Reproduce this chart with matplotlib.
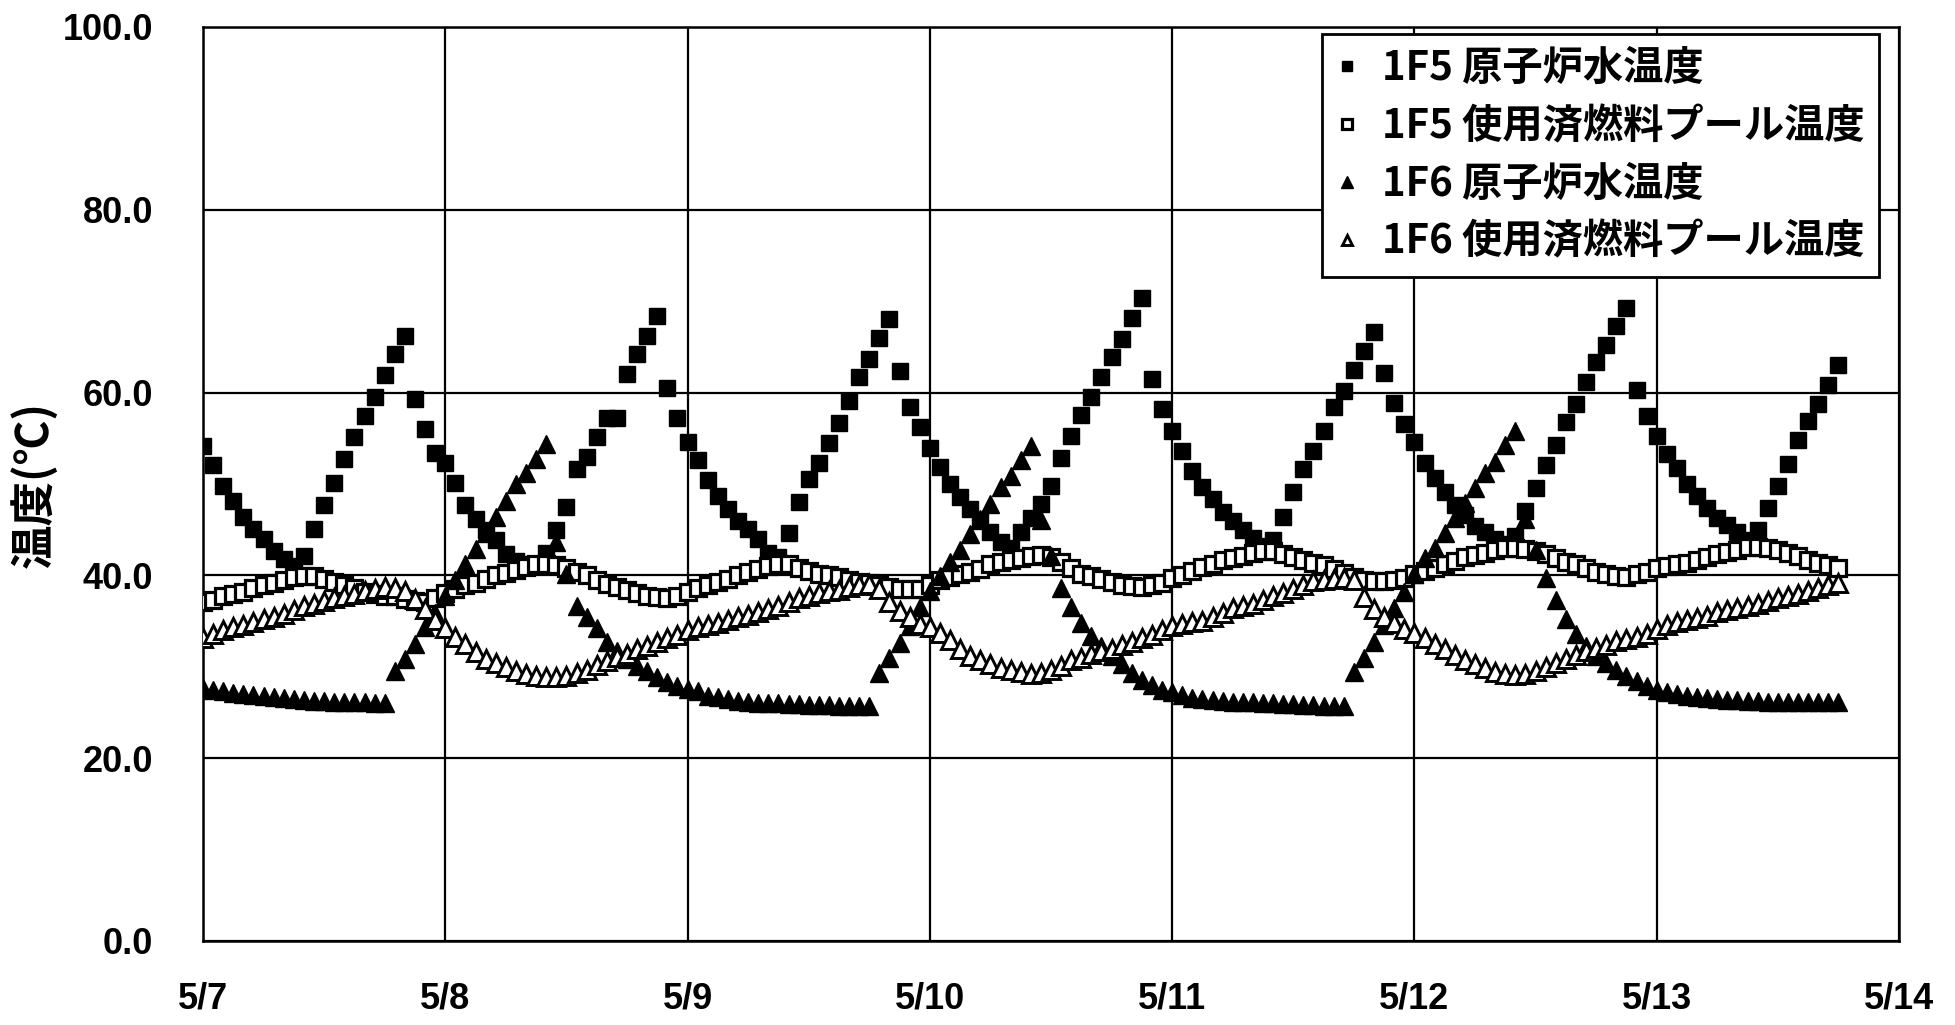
import matplotlib
matplotlib.use("Agg")
import matplotlib.pyplot as plt
from matplotlib.lines import Line2D
import pandas as pd

# ---- data (hourly readings from 2011-05-07 00:00) ----
start_time = "2011-05-07 00:00"
x_tick_labels = ["5/7", "5/8", "5/9", "5/10", "5/11", "5/12", "5/13", "5/14"]
y_tick_values = [0, 20, 40, 60, 80, 100]
y_tick_labels = ["0.0", "20.0", "40.0", "60.0", "80.0", "100.0"]
series_names = ["1F5 原子炉水温度", "1F5 使用済燃料プール温度",
                "1F6 原子炉水温度", "1F6 使用済燃料プール温度"]

f5_reactor = [
    54.2, 52.1, 49.8, 48.1, 46.4, 45.1, 44.0, 42.7, 41.8, 41.0, 42.1, 45.1, 47.7, 50.1, 52.7, 55.1, 57.4, 59.5, 61.9, 64.2, 66.2, 59.3, 56.0, 53.4,
    52.3, 50.1, 47.7, 46.2, 45.0, 43.9, 42.3, 41.6, 41.2, 41.1, 42.5, 45.0, 47.5, 51.6, 52.9, 55.1, 57.2, 57.2, 62.0, 64.2, 66.2, 68.4, 60.5, 57.2,
    54.6, 52.6, 50.4, 48.7, 47.3, 46.0, 45.1, 44.0, 42.4, 42.0, 44.6, 48.0, 50.6, 52.3, 54.5, 56.7, 59.1, 61.7, 63.7, 66.0, 68.1, 62.4, 58.4, 56.2,
    53.9, 51.9, 50.0, 48.6, 47.3, 45.9, 44.8, 43.7, 43.0, 44.8, 46.3, 47.8, 49.8, 52.8, 55.3, 57.5, 59.5, 61.7, 63.9, 65.9, 68.2, 70.3, 61.5, 58.2,
    55.8, 53.6, 51.4, 49.7, 48.4, 46.9, 46.0, 45.0, 44.1, 43.2, 43.9, 46.4, 49.1, 51.6, 53.6, 55.8, 58.4, 60.2, 62.5, 64.6, 66.6, 62.1, 58.9, 56.6,
    54.6, 52.3, 50.7, 49.1, 47.7, 46.6, 45.4, 44.7, 44.0, 43.4, 44.3, 47.1, 49.6, 52.1, 54.3, 56.8, 58.8, 61.2, 63.4, 65.2, 67.3, 69.3, 60.3, 57.4,
    55.2, 53.3, 51.7, 50.0, 48.7, 47.4, 46.3, 45.5, 44.7, 43.9, 45.0, 47.4, 49.8, 52.2, 54.8, 56.9, 58.7, 60.8, 63.0,
]

f5_pool = [
    37.1, 37.3, 37.7, 38.0, 38.2, 38.6, 38.9, 39.2, 39.5, 39.8, 39.9, 39.9, 39.6, 39.3, 39.0, 38.6, 38.2, 38.0, 37.8, 37.7, 37.4, 37.2, 37.1, 37.5,
    38.1, 38.5, 38.9, 39.2, 39.6, 40.0, 40.3, 40.6, 40.9, 41.2, 41.2, 41.1, 40.8, 40.4, 40.0, 39.5, 39.1, 38.7, 38.4, 38.1, 37.8, 37.6, 37.5, 37.7,
    38.2, 38.6, 39.0, 39.3, 39.6, 40.0, 40.4, 40.7, 41.0, 41.3, 41.2, 40.8, 40.5, 40.2, 40.0, 39.8, 39.5, 39.3, 39.2, 39.0, 38.7, 38.5, 38.5, 38.5,
    38.9, 39.5, 39.8, 40.1, 40.4, 40.7, 41.2, 41.5, 41.7, 41.9, 42.1, 42.2, 42.0, 41.5, 40.8, 40.2, 39.9, 39.6, 39.3, 39.0, 38.8, 38.7, 38.9, 39.2,
    39.7, 40.0, 40.5, 40.9, 41.3, 41.7, 41.9, 42.1, 42.4, 42.7, 42.7, 42.3, 42.0, 41.7, 41.4, 41.1, 40.7, 40.3, 39.8, 39.5, 39.4, 39.4, 39.5, 39.7,
    40.1, 40.5, 40.8, 41.2, 41.6, 42.0, 42.2, 42.5, 42.8, 43.0, 43.0, 42.9, 42.7, 42.3, 41.9, 41.5, 41.2, 40.8, 40.4, 40.1, 39.9, 39.8, 40.1, 40.4,
    40.8, 41.0, 41.2, 41.4, 41.7, 42.0, 42.3, 42.6, 42.8, 43.1, 43.1, 43.0, 42.8, 42.5, 42.1, 41.7, 41.4, 41.1, 40.8,
]

f6_reactor = [
    27.7, 27.5, 27.3, 27.1, 27.0, 26.9, 26.8, 26.7, 26.6, 26.5, 26.4, 26.3, 26.3, 26.2, 26.1, 26.1, 26.1, 26.0, 26.0, 29.5, 30.9, 32.5, 34.3, 35.9,
    37.8, 39.5, 41.2, 42.9, 44.6, 46.4, 48.1, 50.0, 51.2, 52.7, 54.4, 43.6, 40.1, 36.7, 35.5, 34.2, 32.7, 31.7, 30.9, 30.1, 29.5, 28.9, 28.3, 27.9,
    27.6, 27.3, 26.8, 26.7, 26.5, 26.3, 26.2, 26.0, 26.0, 26.0, 25.9, 25.9, 25.8, 25.8, 25.8, 25.7, 25.7, 25.7, 25.7, 29.3, 31.0, 32.6, 34.5, 36.5,
    38.3, 39.9, 41.5, 42.8, 44.5, 46.2, 47.8, 49.7, 50.9, 52.6, 54.2, 46.1, 42.1, 38.6, 36.5, 34.8, 33.4, 32.3, 31.2, 30.3, 29.3, 28.6, 28.0, 27.5,
    27.2, 26.9, 26.6, 26.5, 26.4, 26.3, 26.2, 26.1, 26.1, 26.0, 26.0, 25.9, 25.9, 25.8, 25.8, 25.7, 25.7, 25.7, 29.4, 31.0, 32.7, 34.6, 36.4, 38.2,
    40.2, 41.9, 43.0, 44.6, 46.3, 47.9, 49.6, 51.2, 52.4, 54.3, 55.8, 46.2, 42.8, 39.7, 37.3, 35.2, 33.6, 32.3, 31.2, 30.4, 29.7, 29.0, 28.4, 27.9,
    27.5, 27.2, 27.0, 26.8, 26.7, 26.6, 26.5, 26.4, 26.4, 26.3, 26.3, 26.2, 26.2, 26.2, 26.1, 26.1, 26.1, 26.1, 26.1,
]

f6_pool = [
    33.1, 33.6, 34.0, 34.4, 34.6, 34.9, 35.2, 35.5, 35.8, 36.2, 36.6, 36.9, 37.2, 37.5, 37.8, 38.0, 38.3, 38.5, 38.7, 38.6, 38.3, 37.4, 36.3, 35.1,
    34.2, 33.3, 32.5, 31.6, 30.9, 30.4, 30.0, 29.5, 29.2, 29.0, 28.9, 28.9, 29.0, 29.3, 29.7, 30.2, 30.6, 31.1, 31.4, 31.9, 32.3, 32.7, 33.1, 33.5,
    34.0, 34.3, 34.6, 34.8, 35.1, 35.4, 35.7, 36.0, 36.3, 36.7, 37.1, 37.5, 37.8, 38.1, 38.3, 38.4, 38.7, 38.9, 39.1, 38.5, 37.1, 36.1, 35.4, 34.7,
    34.4, 33.7, 32.9, 31.9, 31.2, 30.7, 30.3, 29.9, 29.6, 29.4, 29.2, 29.3, 29.6, 30.1, 30.7, 31.0, 31.4, 31.7, 32.0, 32.4, 32.7, 33.1, 33.5, 34.0,
    34.5, 34.7, 34.9, 35.0, 35.4, 35.9, 36.4, 36.6, 36.9, 37.3, 37.7, 38.1, 38.5, 39.0, 39.4, 39.5, 39.6, 39.7, 39.5, 37.6, 36.3, 35.5, 34.8, 34.1,
    33.7, 33.1, 32.5, 31.9, 31.3, 30.7, 30.3, 29.9, 29.4, 29.2, 29.1, 29.2, 29.5, 30.0, 30.4, 30.9, 31.3, 31.7, 32.1, 32.4, 32.8, 33.0, 33.3, 33.6,
    34.1, 34.6, 34.9, 35.1, 35.3, 35.6, 36.0, 36.2, 36.4, 36.6, 36.9, 37.2, 37.5, 37.8, 38.0, 38.3, 38.6, 38.9, 39.2,
]

# ---- figure ----
W, H = 1955, 1025
fig = plt.figure(figsize=(W / 100, H / 100), dpi=100)
fig.patch.set_facecolor("white")
ax = fig.add_axes([203 / W, 84 / H, 1696 / W, 914 / H])

times = pd.date_range(start_time, periods=len(f5_reactor), freq="h")
tick_times = pd.date_range(start_time, periods=len(x_tick_labels), freq="D")

styles = [
    dict(marker="s", ms=12, mfc="black", mec="black", mew=1.0),
    dict(marker="s", ms=11, mfc="white", mec="black", mew=2.3),
    dict(marker="^", ms=13, mfc="black", mec="black", mew=1.0),
    dict(marker="^", ms=12.5, mfc="white", mec="black", mew=2.1),
]
for vals, st in zip([f5_reactor, f5_pool, f6_reactor, f6_pool], styles):
    ax.plot(times, vals, linestyle="none", zorder=3, **st)

ax.set_xlim(tick_times[0], tick_times[-1])
ax.set_ylim(0, 100)
ax.set_xticks(tick_times)
ax.set_xticklabels(x_tick_labels)
ax.set_yticks(y_tick_values)
ax.set_yticklabels(y_tick_labels)
ax.grid(True, color="black", linewidth=1.6, zorder=1)
ax.set_axisbelow(True)
for sp in ax.spines.values():
    sp.set_linewidth(1.8)
    sp.set_color("black")

for lab in ax.get_xticklabels() + ax.get_yticklabels():
    lab.set_fontfamily("Liberation Sans")
    lab.set_fontweight("bold")
    lab.set_fontsize(26)
ax.tick_params(axis="x", length=0, pad=29)
ax.tick_params(axis="y", length=0, pad=36)

ax.set_ylabel("温度(℃)", fontsize=32, fontweight="bold",
              family=["Noto Sans CJK JP", "DejaVu Sans"])
ax.yaxis.set_label_coords(-0.086, 0.5)

handles = [Line2D([], [], linestyle="none", **st) for st in styles]
leg = ax.legend(handles, series_names, loc="upper left",
                bbox_to_anchor=(1322 / W, 1 - 34 / H),
                bbox_transform=fig.transFigure, borderaxespad=0,
                prop=dict(family=["Noto Sans CJK JP", "DejaVu Sans"], size=29, weight="bold"),
                markerscale=0.62, handlelength=0.55, handletextpad=0.6,
                labelspacing=0.42, borderpad=0.35, fancybox=False,
                framealpha=1, edgecolor="black")
leg.get_frame().set_linewidth(2.0)
leg.set_zorder(5)

fig.savefig("out.png", dpi=100, facecolor="white")
